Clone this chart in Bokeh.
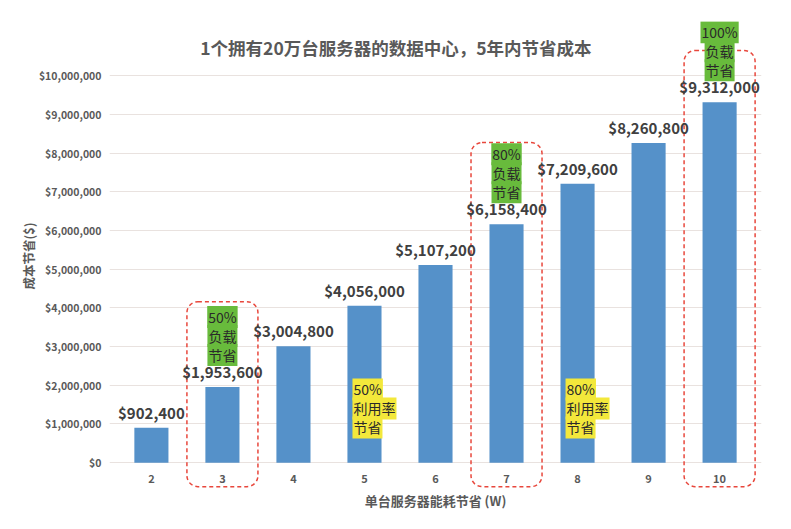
from bokeh.plotting import figure
from bokeh.models import FactorRange, Range1d, FixedTicker, NumeralTickFormatter, BoxAnnotation, Label, ColumnDataSource
from bokeh.core.properties import value
from bokeh.embed import file_html
from bokeh.resources import INLINE

# ---- data ----
categories = ["2", "3", "4", "5", "6", "7", "8", "9", "10"]
savings = [902400, 1953600, 3004800, 4056000, 5107200, 6158400, 7209600, 8260800, 9312000]
y_ticks = [0, 1000000, 2000000, 3000000, 4000000, 5000000, 6000000, 7000000, 8000000, 9000000, 10000000]

title_text = "1个拥有20万台服务器的数据中心，5年内节省成本"
x_title = "单台服务器能耗节省 (W)"
y_title = "成本节省($)"

load_cats = ["3", "7", "10"]
load_pcts = ["50%", "80%", "100%"]
load_box_tops = [4160000, 8270000, 10650000]
util_cats = ["5", "8"]
util_pcts = ["50%", "80%"]
util_anchor = 1400000

CJK = "Noto Sans CJK SC"
GRAY = "#595959"
DARK = "#404040"
BLUE = "#5591c9"
GREEN = "#68bb3c"
YELLOW = "#f3e83b"
RED = "#e8473c"

y_min = -720000
y_max = 11400000
box_bottom = -620000

p = figure(width=791, height=529,
           x_range=FactorRange(*categories, range_padding=0.02, factor_padding=0),
           y_range=Range1d(y_min, y_max), output_backend="svg", toolbar_location=None,
           min_border_left=109, min_border_right=30, min_border_top=21, min_border_bottom=39)
p.outline_line_color = None
p.background_fill_color = "white"
p.border_fill_color = "white"

# dashed rounded boxes (behind everything)
for c, top in zip(load_cats, load_box_tops):
    i = categories.index(c)
    p.add_layout(BoxAnnotation(left=i, right=i + 1, top=top, bottom=box_bottom,
                               fill_alpha=0, line_color=RED, line_alpha=1, line_dash="4 3",
                               line_width=1.5, border_radius=11, level="underlay"))

# bars
src = ColumnDataSource(dict(x=categories, top=savings, zero=[0] * len(categories),
                            lab=["${:,}".format(v) for v in savings]))
p.vbar(x="x", top="top", width=0.48, source=src, color=BLUE, line_color=None)
p.text(x="x", y="top", text="lab", source=src, text_align="center", text_baseline="bottom",
       y_offset=-5, text_font=value(CJK), text_font_style="bold", text_font_size="15px",
       text_color=DARK)

# category labels under the bars
p.text(x="x", y="zero", text="x", source=src, text_align="center", text_baseline="middle",
       y_offset=16, text_font=value(CJK), text_font_style="bold", text_font_size="11px",
       text_color=GRAY)

# axes
p.yaxis.ticker = FixedTicker(ticks=y_ticks)
p.yaxis.formatter = NumeralTickFormatter(format="$0,0")
p.yaxis.axis_line_color = None
p.yaxis.major_tick_line_color = None
p.yaxis.minor_tick_line_color = None
p.yaxis.major_label_standoff = 2
p.yaxis.major_label_text_font = CJK
p.yaxis.major_label_text_font_style = "bold"
p.yaxis.major_label_text_font_size = "10.5px"
p.yaxis.major_label_text_color = GRAY
p.yaxis.axis_label = y_title
p.yaxis.axis_label_standoff = -2
p.yaxis.axis_label_text_font = CJK
p.yaxis.axis_label_text_font_style = "bold"
p.yaxis.axis_label_text_font_size = "12.5px"
p.yaxis.axis_label_text_color = GRAY

p.xaxis.ticker = FixedTicker(ticks=[])
p.xaxis.axis_line_color = None
p.xaxis.major_tick_line_color = None
p.xaxis.minor_tick_line_color = None
p.xaxis.major_label_standoff = 0
p.xaxis.axis_label = x_title
p.xaxis.axis_label_standoff = 0
p.xaxis.axis_label_text_font = CJK
p.xaxis.axis_label_text_font_style = "bold"
p.xaxis.axis_label_text_font_size = "13px"
p.xaxis.axis_label_text_color = GRAY

p.xgrid.grid_line_color = None
p.ygrid.grid_line_color = "#e9e2df"
p.ygrid.grid_line_width = 1

# green "load" labels
gx, gy, gt, goff = [], [], [], []
for c, pct in zip(load_cats, load_pcts):
    v = savings[categories.index(c)]
    for t, off in zip([pct, "负载", "节省"], [-70, -51, -32]):
        gx.append(c); gy.append(v); gt.append(t); goff.append(off)
p.text(x=gx, y=gy, text=gt, y_offset=goff, text_align="center", text_baseline="middle",
       text_font=value(CJK), text_font_size="14px", text_color="#2a2a2a",
       background_fill_color=GREEN, padding=1)

# yellow "utilisation" labels
ux, uy, ut, uoff = [], [], [], []
for c, pct in zip(util_cats, util_pcts):
    for t, off in zip([pct, "利用率", "节省"], [-19, 0, 19]):
        ux.append(c); uy.append(util_anchor); ut.append(t); uoff.append(off)
p.text(x=ux, y=uy, text=ut, y_offset=uoff, x_offset=-12, text_align="left", text_baseline="middle",
       text_font=value(CJK), text_font_size="14px", text_color="#2a2a2a",
       background_fill_color=YELLOW, padding=1)

# title
p.add_layout(Label(x=0, y=y_max, x_offset=280, y_offset=-26, text=title_text,
                   text_align="center", text_baseline="middle", text_font=CJK,
                   text_font_style="bold", text_font_size="17.5px", text_color=GRAY))

open("out.html", "w").write(file_html(p, INLINE))
